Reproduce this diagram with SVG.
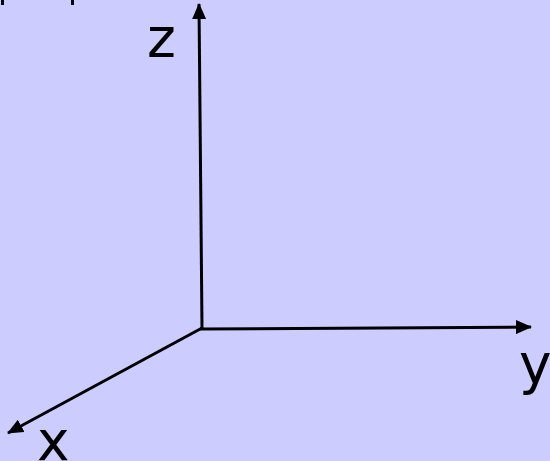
<svg xmlns="http://www.w3.org/2000/svg" width="550" height="461" viewBox="0 0 550 461">
<style>
.ax{stroke:#000;stroke-width:3;fill:none}
.lbl{font-family:"DejaVu Sans",Verdana,sans-serif;font-size:55px;fill:#000}
</style>
<defs>
<marker id="ah" viewBox="0 0 16 14" refX="15" refY="7" markerWidth="16" markerHeight="14" markerUnits="userSpaceOnUse" orient="auto">
<path d="M0,0 L16,7 L0,14 Z" fill="#000"/>
</marker>
</defs>
<rect width="550" height="461" fill="#CCCCFF"/>
<rect x="1" y="0" width="3" height="5" fill="#000"/>
<rect x="71" y="0" width="3" height="5" fill="#000"/>
<g id="connectors">
<line class="ax" x1="202" y1="328" x2="199" y2="4" marker-end="url(#ah)"/>
<line class="ax" x1="200" y1="329" x2="531" y2="327" marker-end="url(#ah)"/>
<line class="ax" x1="202" y1="328" x2="8" y2="433" marker-end="url(#ah)"/>
</g>
<g id="z"><text class="lbl" x="147" y="57">z</text></g>
<g id="y"><text class="lbl" x="519" y="383">y</text></g>
<g id="x"><text class="lbl" x="37" y="460">x</text></g>
</svg>
